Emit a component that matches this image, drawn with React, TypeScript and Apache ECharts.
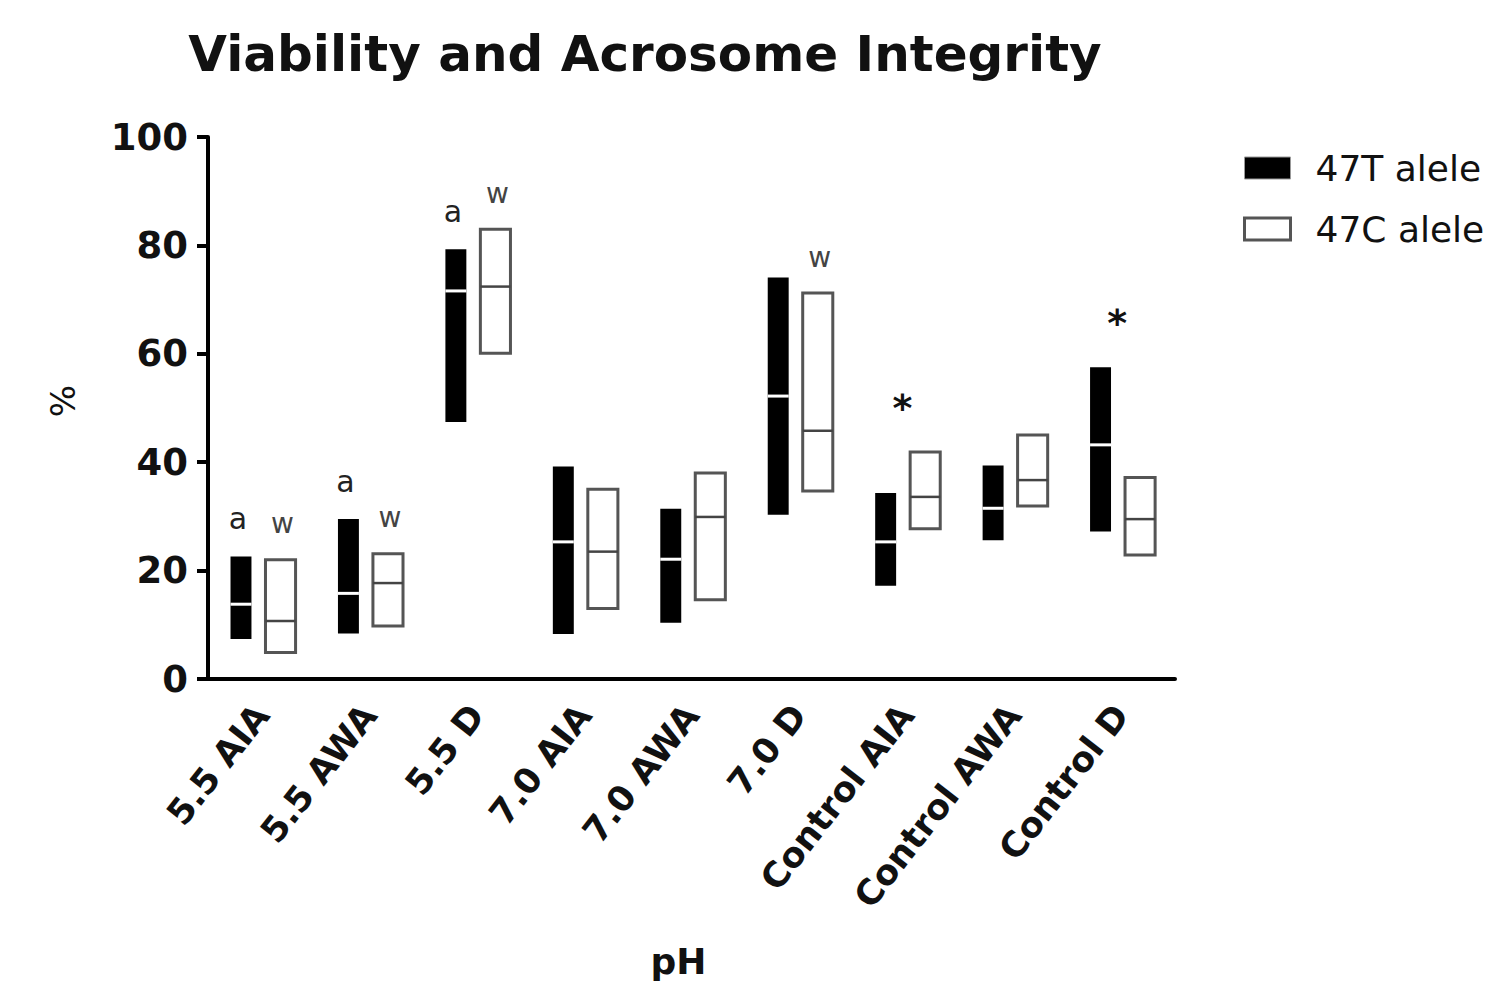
import React, { useEffect, useRef } from "react";
import * as echarts from "echarts";

const categories = ["5.5 AIA", "5.5 AWA", "5.5 D", "7.0 AIA", "7.0 AWA", "7.0 D", "Control AIA", "Control AWA", "Control D"];

// 47T alele: min, median, max
const t47Min = [7.4, 8.4, 47.4, 8.3, 10.4, 30.3, 17.2, 25.6, 27.2];
const t47Med = [13.8, 15.8, 71.6, 25.3, 22.1, 52.2, 25.3, 31.5, 43.2];
const t47Max = [22.6, 29.5, 79.3, 39.2, 31.4, 74.1, 34.3, 39.4, 57.5];

// 47C alele: min, median, max
const c47Min = [4.9, 9.8, 60.1, 13.0, 14.6, 34.7, 27.7, 31.9, 22.9];
const c47Med = [10.7, 17.7, 72.4, 23.5, 29.9, 45.8, 33.6, 36.7, 29.5];
const c47Max = [22.0, 23.1, 83.0, 35.0, 38.0, 71.2, 41.9, 45.0, 37.2];

const annotT = ["a", "a", "a", "", "", "", "", "", ""];
const annotC = ["w", "w", "w", "", "", "w", "", "", ""];
const annotStar = ["", "", "", "", "", "", "*", "", "*"];

const yTicks = [0, 20, 40, 60, 80, 100];

export default function App() {
  const ref = useRef<HTMLDivElement>(null);
  useEffect(() => {
    document.body.style.margin = "0";
    const chart = echarts.init(ref.current!, null, { renderer: "svg" });
    const font = "'DejaVu Sans', Arial, sans-serif";

    const tData = categories.map((_, i) => [i, t47Min[i], t47Med[i], t47Max[i]]);
    const cData = categories.map((_, i) => [i, c47Min[i], c47Med[i], c47Max[i]]);

    const renderT = (params: any, api: any) => {
      const idx = api.value(0);
      const lo = api.coord([idx, api.value(1)]);
      const med = api.coord([idx, api.value(2)]);
      const hi = api.coord([idx, api.value(3)]);
      const band = api.size([1, 0])[0];
      const w = band * 0.195;
      const cx = lo[0] - band * 0.193;
      const children: any[] = [
        { type: "rect", shape: { x: cx - w / 2, y: hi[1], width: w, height: lo[1] - hi[1] }, style: { fill: "#000" } },
        { type: "line", shape: { x1: cx - w / 2, y1: med[1], x2: cx + w / 2, y2: med[1] }, style: { stroke: "#fff", lineWidth: 3 } },
      ];
      if (annotT[idx]) {
        children.push({ type: "text", style: { x: cx - 3, y: hi[1] - 38, text: annotT[idx], fill: "#222", font: `30px ${font}`, align: "center", verticalAlign: "middle" } });
      }
      return { type: "group", children };
    };

    const renderC = (params: any, api: any) => {
      const idx = api.value(0);
      const lo = api.coord([idx, api.value(1)]);
      const med = api.coord([idx, api.value(2)]);
      const hi = api.coord([idx, api.value(3)]);
      const band = api.size([1, 0])[0];
      const w = band * 0.28;
      const cx = lo[0] + band * 0.175;
      const children: any[] = [
        { type: "rect", shape: { x: cx - w / 2, y: hi[1], width: w, height: lo[1] - hi[1] }, style: { fill: "#fff", stroke: "#555", lineWidth: 3 } },
        { type: "line", shape: { x1: cx - w / 2, y1: med[1], x2: cx + w / 2, y2: med[1] }, style: { stroke: "#444", lineWidth: 2.5 } },
      ];
      if (annotC[idx]) {
        children.push({ type: "text", style: { x: cx + 2, y: hi[1] - 36, text: annotC[idx], fill: "#444", font: `28px ${font}`, align: "center", verticalAlign: "middle" } });
      }
      if (annotStar[idx]) {
        const top = Math.min(hi[1], api.coord([idx, t47Max[idx]])[1]);
        children.push({ type: "text", style: { x: lo[0] - 4, y: top - 44, text: annotStar[idx], fill: "#111", font: `bold 38px ${font}`, align: "center", verticalAlign: "middle" } });
      }
      return { type: "group", children };
    };

    chart.setOption({
      animation: false,
      backgroundColor: "#fff",
      title: {
        text: "Viability and Acrosome Integrity",
        left: 640,
        top: 24,
        textAlign: "center",
        textStyle: { fontFamily: font, fontWeight: "bold", fontSize: 50, color: "#111" },
      },
      legend: {
        orient: "vertical",
        left: 1238,
        top: 145,
        itemWidth: 46,
        itemHeight: 22,
        itemGap: 25,
        textStyle: { fontFamily: font, fontSize: 36, color: "#111", padding: [0, 0, 0, 20] },
        data: [
          { name: "47T alele", icon: "rect", itemStyle: { color: "#000", borderColor: "#999", borderWidth: 1 } },
          { name: "47C alele", icon: "rect", itemStyle: { color: "#fff", borderColor: "#555", borderWidth: 3 } },
        ],
      },
      grid: { left: 208, right: 331, top: 137, bottom: 309, containLabel: false },
      xAxis: {
        type: "category",
        data: categories,
        boundaryGap: true,
        name: "pH",
        nameLocation: "middle",
        nameGap: 264,
        nameTextStyle: { fontFamily: font, fontWeight: "bold", fontSize: 36, color: "#111", padding: [0, 26, 0, 0] },
        axisLine: { lineStyle: { color: "#000", width: 4 } },
        axisTick: { alignWithLabel: true, length: 11, lineStyle: { color: "#000", width: 4 } },
        axisLabel: { rotate: 52, margin: 30, fontFamily: font, fontWeight: "bold", fontSize: 35, color: "#111", interval: 0 },
      },
      yAxis: {
        type: "value",
        min: yTicks[0],
        max: yTicks[yTicks.length - 1],
        interval: 20,
        name: "%",
        nameLocation: "middle",
        nameGap: 128,
        nameRotate: 90,
        nameTextStyle: { fontFamily: font, fontSize: 34, color: "#111", padding: [0, 0, 0, 14] },
        axisLine: { show: true, lineStyle: { color: "#000", width: 4 } },
        axisTick: { show: true, length: 11, lineStyle: { color: "#000", width: 4 } },
        axisLabel: { margin: 20, fontFamily: font, fontWeight: "bold", fontSize: 37, color: "#111" },
        splitLine: { show: false },
      },
      series: [
        { name: "47T alele", type: "custom", renderItem: renderT, data: tData, itemStyle: { color: "#000" }, encode: { x: 0, y: [1, 2, 3] }, clip: false },
        { name: "47C alele", type: "custom", renderItem: renderC, data: cData, itemStyle: { color: "#fff", borderColor: "#555" }, encode: { x: 0, y: [1, 2, 3] }, clip: false },
      ],
    });
    return () => chart.dispose();
  }, []);
  return <div ref={ref} style={{ width: 1506, height: 988 }} />;
}
